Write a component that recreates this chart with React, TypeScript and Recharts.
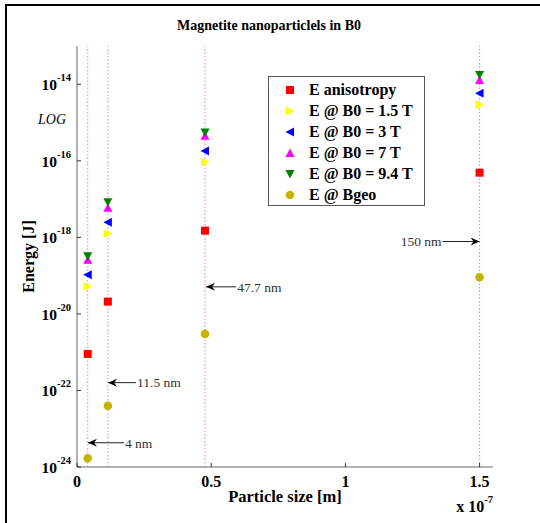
import React from "react";
import { ScatterChart, Scatter, XAxis, YAxis, ReferenceLine, ReferenceDot, Legend } from "recharts";

// particle sizes, in units of 1e-7 m
const sizes = [0.04, 0.115, 0.477, 1.5];

// energies [J]
const eAnisotropy = [9e-22, 2.1e-20, 1.5e-18, 4.9e-17];
const eB15 = [5.2e-20, 1.26e-18, 9.3e-17, 2.9e-15];
const eB3 = [1.05e-19, 2.5e-18, 1.8e-16, 5.8e-15];
const eB7 = [2.6e-19, 5.9e-18, 4.5e-16, 1.3e-14];
const eB94 = [3.2e-19, 8.3e-18, 5.5e-16, 1.75e-14];
const eBgeo = [1.7e-24, 4e-23, 3e-21, 9.1e-20];

const xTicks = [0, 0.5, 1, 1.5];
const yTicks = [1e-24, 1e-22, 1e-20, 1e-18, 1e-16, 1e-14];

const annLabels = ["4 nm", "11.5 nm", "47.7 nm", "150 nm"];
const annTipX = [0.041, 0.116, 0.481, 1.5];
const annTailX = [0.175, 0.22, 0.593, 1.362];
const annY = [4.3e-24, 1.6e-22, 5.1e-20, 7.8e-19];

const FONT = "'Liberation Serif', 'Times New Roman', serif";

type ShapeKind = "square" | "right" | "left" | "up" | "down" | "circle";

const drawMarker = (kind: ShapeKind, cx: number, cy: number, fill: string) => {
  switch (kind) {
    case "square":
      return <rect x={cx - 4} y={cy - 4} width={8} height={8} fill={fill} />;
    case "right":
      return <polygon points={`${cx - 4},${cy - 4.5} ${cx + 4.5},${cy} ${cx - 4},${cy + 4.5}`} fill={fill} />;
    case "left":
      return <polygon points={`${cx + 4},${cy - 4.5} ${cx - 4.5},${cy} ${cx + 4},${cy + 4.5}`} fill={fill} />;
    case "up":
      return <polygon points={`${cx - 4.5},${cy + 4} ${cx},${cy - 4.5} ${cx + 4.5},${cy + 4}`} fill={fill} />;
    case "down":
      return <polygon points={`${cx - 4.5},${cy - 4} ${cx + 4.5},${cy - 4} ${cx},${cy + 4.5}`} fill={fill} />;
    default:
      return <circle cx={cx} cy={cy} r={4.3} fill={fill} />;
  }
};

const series: { name: string; values: number[]; color: string; kind: ShapeKind }[] = [
  { name: "E anisotropy", values: eAnisotropy, color: "#ff0000", kind: "square" },
  { name: "E @ B0 = 1.5 T", values: eB15, color: "#ffff00", kind: "right" },
  { name: "E @ B0 = 3 T", values: eB3, color: "#0000ff", kind: "left" },
  { name: "E @ B0 = 7 T", values: eB7, color: "#ff00ff", kind: "up" },
  { name: "E @ B0 = 9.4 T", values: eB94, color: "#008000", kind: "down" },
  { name: "E @ Bgeo", values: eBgeo, color: "#c4b400", kind: "circle" },
];

// tick marks drawn inward by hand (tickSize 0, so x/y are known offsets from the axis)
const LogTick = ({ x, y, payload }: any) => {
  const exp = Math.round(Math.log10(payload.value));
  return (
    <g>
      <line x1={x + 8} x2={x + 12} y1={y} y2={y} stroke="#333" />
      <text x={x + 2} y={y} dy={6} textAnchor="end" fontFamily={FONT} fontWeight="bold" fontSize={15.5} fill="#000">
        10
        <tspan dy={-9} fontSize={10.5}>
          {exp}
        </tspan>
      </text>
    </g>
  );
};

const SizeTick = ({ x, y, payload }: any) => (
  <g>
    <line x1={x} x2={x} y1={y - 8} y2={y - 12} stroke="#333" />
    <text x={x} y={y} dy={12} textAnchor="middle" fontFamily={FONT} fontWeight="bold" fontSize={16} fill="#000">
      {payload.value}
    </text>
  </g>
);

const TopTick = ({ x, y }: any) => <line x1={x} x2={x} y1={y} y2={y + 4} stroke="#333" />;
const RightTick = ({ x, y }: any) => <line x1={x} x2={x - 4} y1={y} y2={y} stroke="#333" />;

const LegendBox = () => (
  <div
    style={{
      width: 157,
      height: 130,
      boxSizing: "border-box",
      border: "1.5px solid #555",
      background: "#fff",
      paddingTop: 2,
      fontFamily: FONT,
      fontWeight: "bold",
      fontSize: 16,
      color: "#000",
    }}
  >
    {series.map((s) => (
      <div key={s.name} style={{ display: "flex", alignItems: "center", height: 21 }}>
        <svg width={16} height={12} style={{ marginLeft: 13, flexShrink: 0 }}>
          {drawMarker(s.kind, 8, 6, s.color)}
        </svg>
        <span style={{ marginLeft: 11, whiteSpace: "nowrap" }}>{s.name}</span>
      </div>
    ))}
  </div>
);

export default function App() {
  const axisLine = { stroke: "#999", strokeWidth: 1.5 };
  return (
    <div style={{ position: "absolute", left: 0, top: 0, width: 540, height: 523, background: "#fff" }}>
      <div
        style={{
          position: "absolute",
          left: 5,
          top: 4,
          width: 535,
          height: 519,
          borderTop: "2.5px solid #000",
          borderLeft: "2.5px solid #000",
        }}
      />
      <ScatterChart width={540} height={523} margin={{ top: 46, right: 47, bottom: 16, left: 0 }}>
        <XAxis
          type="number"
          dataKey="x"
          domain={[0, 1.55]}
          ticks={xTicks}
          allowDataOverflow
          height={40}
          axisLine={axisLine}
          tickLine={false}
          tickSize={0}
          tickMargin={8}
          tick={<SizeTick />}
          label={{
            value: "Particle size [m]",
            position: "insideBottom",
            offset: 5,
            style: { fontFamily: FONT, fontWeight: "bold", fontSize: 16.5, fill: "#000" },
          }}
        />
        <XAxis
          xAxisId="top"
          orientation="top"
          type="number"
          domain={[0, 1.55]}
          ticks={xTicks}
          allowDataOverflow
          height={0}
          axisLine={axisLine}
          tickLine={false}
          tickSize={0}
          tickMargin={0}
          tick={<TopTick />}
        />
        <YAxis
          type="number"
          dataKey="y"
          scale="log"
          domain={[1e-24, 1e-13]}
          ticks={yTicks}
          allowDataOverflow
          width={77}
          axisLine={axisLine}
          tickLine={false}
          tickSize={0}
          tickMargin={8}
          tick={<LogTick />}
          label={{
            value: "Energy [J]",
            angle: -90,
            position: "insideLeft",
            offset: 28,
            textAnchor: "middle",
            style: { fontFamily: FONT, fontWeight: "bold", fontSize: 16, fill: "#000", textAnchor: "middle" },
          }}
        />
        <YAxis
          yAxisId="right"
          orientation="right"
          type="number"
          scale="log"
          domain={[1e-24, 1e-13]}
          ticks={yTicks}
          allowDataOverflow
          width={0}
          axisLine={axisLine}
          tickLine={false}
          tickSize={0}
          tickMargin={0}
          tick={<RightTick />}
        />
        {sizes.map((s) => (
          <ReferenceLine key={"v" + s} x={s} stroke="#ff66ff" strokeDasharray="1.5 2" strokeWidth={1} />
        ))}
        {series.map((s) => (
          <Scatter
            key={s.name}
            name={s.name}
            data={sizes.map((x, i) => ({ x, y: s.values[i] }))}
            fill={s.color}
            shape={(p: any) => drawMarker(s.kind, p.cx, p.cy, s.color)}
            isAnimationActive={false}
          />
        ))}
        {annLabels.map((lab, i) => (
          <ReferenceLine
            key={"a" + i}
            segment={[
              { x: annTailX[i], y: annY[i] },
              { x: annTipX[i], y: annY[i] },
            ]}
            stroke="#222"
            strokeWidth={1}
          />
        ))}
        {annLabels.map((lab, i) => {
          const dir = annTipX[i] < annTailX[i] ? 1 : -1;
          return (
            <ReferenceDot
              key={"h" + i}
              x={annTipX[i]}
              y={annY[i]}
              r={0}
              shape={(p: any) => (
                <polygon
                  points={`${p.cx},${p.cy} ${p.cx + dir * 9},${p.cy - 4} ${p.cx + dir * 6},${p.cy} ${p.cx + dir * 9},${p.cy + 4}`}
                  fill="#000"
                />
              )}
            />
          );
        })}
        {annLabels.map((lab, i) => (
          <ReferenceDot
            key={"t" + i}
            x={annTailX[i]}
            y={annY[i]}
            r={0}
            fill="none"
            stroke="none"
            label={{
              value: lab,
              position: annTipX[i] < annTailX[i] ? "right" : "left",
              offset: 1,
              style: { fontFamily: FONT, fontSize: 13.5, fill: "#333" },
            }}
          />
        ))}
        <Legend
          layout="vertical"
          verticalAlign="middle"
          align="center"
          wrapperStyle={{ left: 268, top: 76, width: 157, height: 130 }}
          content={() => <LegendBox />}
        />
      </ScatterChart>
      <svg width={540} height={523} style={{ position: "absolute", left: 0, top: 0, pointerEvents: "none" }}>
        <text x={269} y={30} textAnchor="middle" fontFamily={FONT} fontWeight="bold" fontSize={14} fill="#000">
          Magnetite nanoparticlels in B0
        </text>
        <text x={52} y={124} textAnchor="middle" fontFamily={FONT} fontStyle="italic" fontSize={14} fill="#000">
          LOG
        </text>
        <text x={493} y={512} textAnchor="end" fontFamily={FONT} fontWeight="bold" fontSize={16} fill="#000">
          x 10
          <tspan dy={-9} fontSize={10.5}>
            -7
          </tspan>
        </text>
      </svg>
    </div>
  );
}
